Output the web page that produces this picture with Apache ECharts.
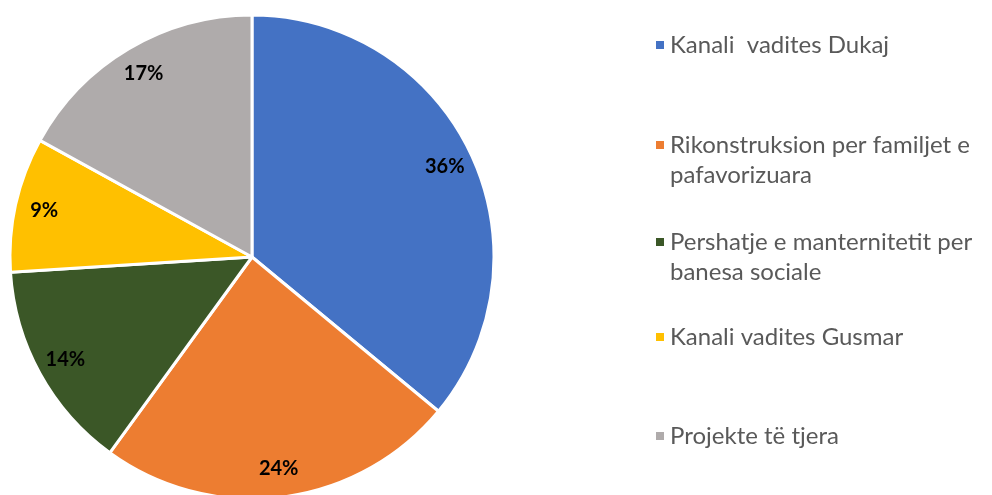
<!DOCTYPE html>
<html>
<head>
<meta charset="utf-8">
<script src="https://cdn.jsdelivr.net/npm/echarts@6/dist/echarts.min.js"></script>
<style>
  html, body { margin: 0; padding: 0; background: #fff; }
  #chart { width: 992px; height: 495px; }
</style>
</head>
<body>
<div id="chart"></div>
<script>
// data
var categories = [
  'Kanali  vadites Dukaj',
  'Rikonstruksion per familjet e\npafavorizuara',
  'Pershatje e manternitetit per\nbanesa sociale',
  'Kanali vadites Gusmar',
  'Projekte të tjera'
]
var shares = [36, 24, 14, 9, 17]
var colors = ['#4472C4', '#ED7D31', '#3B5727', '#FFC000', '#AFABAB']

// y of each legend marker centre
var legendY = [45, 145, 242, 337, 436]

var pieData = categories.map(function (name, i) {
  return { name: name, value: shares[i] }
})

var legends = categories.map(function (name, i) {
  var wrapped = name.indexOf('\n') >= 0
  return {
    orient: 'vertical',
    left: 654,
    top: wrapped ? legendY[i] - 45 : legendY[i] - 15,
    padding: 0,
    itemWidth: 10,
    itemHeight: 10,
    icon: 'rect',
    data: [name],
    selectedMode: false,
    // empty first line keeps the marker level with the first text line
    formatter: function (n) { return n.indexOf('\n') >= 0 ? '\n' + n : n },
    textStyle: {
      fontFamily: 'Lato',
      fontSize: 24,
      color: '#595959',
      lineHeight: 30
    }
  }
})

var chart = echarts.init(document.getElementById('chart'))
chart.setOption({
  animation: false,
  color: colors,
  legend: legends,
  series: [
    {
      type: 'pie',
      center: [252, 257],
      radius: [0, 242],
      startAngle: 90,
      clockwise: true,
      data: pieData,
      itemStyle: { borderColor: '#fff', borderWidth: 3 },
      label: { show: false },
      labelLine: { show: false },
      emphasis: { disabled: true }
    },
    {
      // label ring only, sits on the outer part of the pie
      type: 'pie',
      center: [252, 257],
      radius: [178, 242],
      startAngle: 90,
      clockwise: true,
      data: pieData,
      silent: true,
      legendHoverLink: false,
      itemStyle: { color: 'transparent', borderWidth: 0 },
      label: {
        show: true,
        position: 'inside',
        formatter: '{c}%',
        fontFamily: 'Lato',
        fontWeight: 'bold',
        fontSize: 20,
        color: '#000'
      },
      labelLine: { show: false },
      emphasis: { disabled: true }
    }
  ]
})
</script>
</body>
</html>
